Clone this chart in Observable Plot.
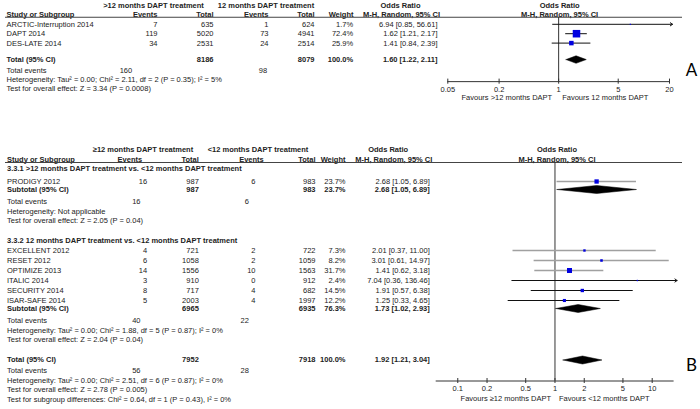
<!DOCTYPE html>
<html><head><meta charset="utf-8">
<script src="https://cdn.jsdelivr.net/npm/d3@7"></script>
<script src="https://cdn.jsdelivr.net/npm/@observablehq/plot@0.6"></script>
<style>
html,body{margin:0;padding:0;background:#fff;}
#chart{width:700px;height:409px;overflow:hidden;background:#fff;}
#chart svg{display:block;}
</style></head><body><div id="chart"></div>
<script>
// ---------- Panel A data ----------
const aArms = [">12 months DAPT treatment", "12 months DAPT treatment"];
const aStudies = ["ARCTIC-Interruption 2014", "DAPT 2014", "DES-LATE 2014"];
const aEvents1 = [7, 119, 34];
const aTotal1 = [635, 5020, 2531];
const aEvents2 = [1, 73, 24];
const aTotal2 = [624, 4941, 2514];
const aWeight = [1.7, 72.4, 25.9];
const aOR = [6.94, 1.62, 1.41];
const aLow = [0.85, 1.21, 0.84];
const aHigh = [56.61, 2.17, 2.39];
const aPooled = [1.60, 1.22, 2.11];
const aPooledTotals = [8186, 8079];
const aPooledEvents = [160, 98];
const aNotes = ["Heterogeneity: Tau² = 0.00; Chi² = 2.11, df = 2 (P = 0.35); I² = 5%",
                "Test for overall effect: Z = 3.34 (P = 0.0008)"];
const aTicks = [0.05, 0.2, 1, 5, 20];
const aFavours = ["Favours >12 months DAPT", "Favours 12 months DAPT"];

// ---------- Panel B data ----------
const bArms = ["≥12 months DAPT treatment", "<12 months DAPT treatment"];
const bGroups = ["3.3.1 >12 months DAPT treatment vs. <12 months DAPT treatment",
                 "3.3.2 12 months DAPT treatment vs. <12 months DAPT treatment"];
const bStudies = ["PRODIGY 2012", "EXCELLENT 2012", "RESET 2012", "OPTIMIZE 2013", "ITALIC 2014", "SECURITY 2014", "ISAR-SAFE 2014"];
const bGroupOf = [0, 1, 1, 1, 1, 1, 1];
const bEvents1 = [16, 4, 6, 14, 3, 8, 5];
const bTotal1 = [987, 721, 1058, 1556, 910, 717, 2003];
const bEvents2 = [6, 2, 2, 10, 0, 4, 4];
const bTotal2 = [983, 722, 1059, 1563, 912, 682, 1997];
const bWeight = [23.7, 7.3, 8.2, 31.7, 2.4, 14.5, 12.2];
const bOR = [2.68, 2.01, 3.01, 1.41, 7.04, 1.91, 1.25];
const bLow = [1.05, 0.37, 0.61, 0.62, 0.36, 0.57, 0.33];
const bHigh = [6.89, 11.00, 14.97, 3.18, 136.46, 6.38, 4.65];
const bSubTotal1 = [987, 6965];
const bSubTotal2 = [983, 6935];
const bSubWeight = [23.7, 76.3];
const bSubOR = [2.68, 1.73];
const bSubLow = [1.05, 1.02];
const bSubHigh = [6.89, 2.93];
const bSubEvents1 = [16, 40];
const bSubEvents2 = [6, 22];
const bSubHet = ["Heterogeneity: Not applicable",
                 "Heterogeneity: Tau² = 0.00; Chi² = 1.88, df = 5 (P = 0.87); I² = 0%"];
const bSubTest = ["Test for overall effect: Z = 2.05 (P = 0.04)",
                  "Test for overall effect: Z = 2.04 (P = 0.04)"];
const bPooled = [1.92, 1.21, 3.04];
const bPooledTotals = [7952, 7918];
const bPooledEvents = [56, 28];
const bNotes = ["Heterogeneity: Tau² = 0.00; Chi² = 2.51, df = 6 (P = 0.87); I² = 0%",
                "Test for overall effect: Z = 2.78 (P = 0.005)",
                "Test for subgroup differences: Chi² = 0.64, df = 1 (P = 0.43), I² = 0%"];
const bTicks = [0.1, 0.2, 0.5, 1, 2, 5, 10];
const bFavours = ["Favours ≥12 months DAPT", "Favours <12 months DAPT"];

// ---------- helpers ----------
const FONT = "'Liberation Sans', Arial, Helvetica, sans-serif";
const INK = "#222";
const BLUE = "#0000e0";
const ML = 5, MR = 18, FS = 7.5;
const fmtCI = (o, l, h) => `${o.toFixed(2)} [${l.toFixed(2)}, ${h.toFixed(2)}]`;
const fmtW = w => `${w.toFixed(1)}%`;

function headerRows(arms, rows) {
  rows.push({line: 0, h1a: arms[0], h1b: arms[1], hor: "Odds Ratio", bold: true});
  rows.push({line: 1, name: "Study or Subgroup", hev1: "Events", htot1: "Total", hev2: "Events",
             htot2: "Total", hw: "Weight", hmh: "M-H, Random, 95% CI", bold: true});
}

function panel(cfg) {
  const marks = [];
  const [dmin, dmax] = cfg.xDomain;
  for (const [key, [pos, anchor]] of Object.entries(cfg.cols)) {
    for (const bold of [false, true]) {
      const data = cfg.rows.filter(r => r[key] != null && !!r.bold === bold);
      if (!data.length) continue;
      marks.push(Plot.text(data, {y: "line", text: d => String(d[key]), frameAnchor: "left",
        dx: pos - ML, textAnchor: anchor, fontSize: FS, fontWeight: bold ? "bold" : "normal", fill: INK}));
    }
  }
  marks.push(Plot.ruleY([cfg.underline], {stroke: "#444", strokeWidth: 1}));
  marks.push(Plot.text(["Odds Ratio", "M-H, Random, 95% CI"], {x: () => 1, y: (d, i) => i, text: d => d,
    dx: cfg.headDx, fontSize: FS, fontWeight: "bold", fill: INK}));
  marks.push(Plot.ruleX([1], {y1: () => cfg.underline, y2: () => cfg.axisLine, stroke: "#333", strokeWidth: 1}));
  marks.push(Plot.ruleY([cfg.axisLine], {x1: () => dmin, x2: () => dmax, stroke: "#333", strokeWidth: 1}));
  marks.push(Plot.ruleX(cfg.ticks, {x: d => d, y1: () => cfg.axisLine - cfg.tickHalf, y2: () => cfg.axisLine + cfg.tickHalf, stroke: "#333"}));
  marks.push(Plot.text(cfg.ticks, {x: d => d, y: () => cfg.tickLine, text: d => String(d), fontSize: FS, fill: INK}));
  marks.push(Plot.text([cfg.favours[0]], {x: () => 1, y: () => cfg.favLine, text: d => d, textAnchor: "end", dx: cfg.favDx[0], fontSize: FS, fill: INK}));
  marks.push(Plot.text([cfg.favours[1]], {x: () => 1, y: () => cfg.favLine, text: d => d, textAnchor: "start", dx: cfg.favDx[1], fontSize: FS, fill: INK}));
  const inside = cfg.studies.filter(s => s.hi <= dmax);
  const outside = cfg.studies.filter(s => s.hi > dmax);
  marks.push(Plot.ruleY(inside.filter(s => s.gray), {y: "line", x1: "lo", x2: "hi", stroke: "#a0a0a0", strokeWidth: 1.6}));
  marks.push(Plot.ruleY(inside.filter(s => !s.gray), {y: "line", x1: "lo", x2: "hi", stroke: "#111", strokeWidth: 1}));
  marks.push(Plot.arrow(outside, {x1: "lo", x2: () => dmax, y1: "line", y2: "line", stroke: "#111", strokeWidth: 1, headLength: 4, headAngle: 70, insetEnd: -3}));
  marks.push(Plot.dot(cfg.studies, {x: "or", y: "line", r: "w", symbol: "square", fill: BLUE, stroke: "none"}));
  const pts = [];
  cfg.diamonds.forEach((d, id) => {
    pts.push({id, x: d.lo, y: d.line}, {id, x: d.or, y: d.line - cfg.dHalf},
             {id, x: d.hi, y: d.line}, {id, x: d.or, y: d.line + cfg.dHalf}, {id, x: d.lo, y: d.line});
  });
  marks.push(Plot.line(pts, {x: "x", y: "y", z: "id", fill: "#000", stroke: "#000", strokeWidth: 0.5}));
  marks.push(Plot.text([cfg.letter], {frameAnchor: "left", dx: 691 - ML, y: () => cfg.letterLine, text: d => d,
    textAnchor: "middle", fontSize: 17, fontFamily: "Lato, 'Open Sans', sans-serif", fill: "#000"}));

  return Plot.plot({
    width: 700, height: cfg.height,
    marginLeft: ML, marginRight: MR, marginTop: 0, marginBottom: 0,
    x: {type: "log", domain: cfg.xDomain, range: cfg.xRange, axis: null},
    y: {domain: cfg.yDomain, range: cfg.yRange, axis: null},
    r: {type: "sqrt", domain: [0, 100], range: [0, 5]},
    style: {fontFamily: FONT, background: "#fff", overflow: "visible"},
    marks
  });
}

// ---------- Panel A layout ----------
const rowsA = [], studiesA = [], diamondsA = [];
headerRows(aArms, rowsA);
let ln = 2;
aStudies.forEach((s, i) => {
  rowsA.push({line: ln, name: s, ev1: aEvents1[i], tot1: aTotal1[i], ev2: aEvents2[i], tot2: aTotal2[i],
              w: fmtW(aWeight[i]), ci: fmtCI(aOR[i], aLow[i], aHigh[i])});
  studiesA.push({line: ln, or: aOR[i], lo: aLow[i], hi: aHigh[i], w: aWeight[i], gray: false});
  ln += 1;
});
ln += 0.75;
rowsA.push({line: ln, name: "Total (95% CI)", tot1: aPooledTotals[0], tot2: aPooledTotals[1], w: fmtW(100),
            ci: fmtCI(...aPooled), bold: true});
diamondsA.push({line: ln, or: aPooled[0], lo: aPooled[1], hi: aPooled[2]});
ln += 1.15;
rowsA.push({line: ln, name: "Total events", tev1: aPooledEvents[0], tev2: aPooledEvents[1]});
ln += 1;
rowsA.push({line: ln, name: aNotes[0]});
ln += 0.98;
rowsA.push({line: ln, name: aNotes[1]});

const panelA = panel({
  height: 130, rows: rowsA, studies: studiesA, diamonds: diamondsA,
  cols: {name: [6, "start"], ev1: [157, "end"], tot1: [213, "end"], ev2: [268, "end"], tot2: [314, "end"],
         w: [352.7, "end"], ci: [437, "end"], tev1: [131.7, "end"], tev2: [266.7, "end"],
         h1a: [153, "middle"], h1b: [265.5, "middle"], hev1: [157, "end"], htot1: [213, "end"],
         hev2: [268, "end"], htot2: [314, "end"], hw: [353, "end"], hor: [400, "middle"], hmh: [401, "middle"]},
  xDomain: [0.05, 20], xRange: [447.3, 669],
  yDomain: [0, 10], yRange: [5, 99],
  underline: 1.25, axisLine: 8.1, tickHalf: 0.27, tickLine: 8.95, favLine: 9.85,
  ticks: aTicks, favours: aFavours, favDx: [-6.5, 3.5], headDx: 1,
  dHalf: 0.4, letter: "A", letterLine: 6.9
});

// ---------- Panel B layout ----------
const rowsB = [], studiesB = [], diamondsB = [];
headerRows(bArms, rowsB);
const groupGap = [1.25, 1.0];
ln = 1.95;
bGroups.forEach((g, gi) => {
  rowsB.push({line: ln, name: g, bold: true});
  ln += groupGap[gi];
  let last = ln;
  bStudies.forEach((s, i) => {
    if (bGroupOf[i] !== gi) return;
    rowsB.push({line: ln, name: s, ev1: bEvents1[i], tot1: bTotal1[i], ev2: bEvents2[i], tot2: bTotal2[i],
                w: fmtW(bWeight[i]), ci: fmtCI(bOR[i], bLow[i], bHigh[i])});
    studiesB.push({line: ln, or: bOR[i], lo: bLow[i], hi: bHigh[i], w: bWeight[i], gray: i < 4});
    last = ln;
    ln += 1;
  });
  ln = last + 0.8;
  rowsB.push({line: ln, name: "Subtotal (95% CI)", tot1: bSubTotal1[gi], tot2: bSubTotal2[gi],
              w: fmtW(bSubWeight[gi]), ci: fmtCI(bSubOR[gi], bSubLow[gi], bSubHigh[gi]), bold: true});
  diamondsB.push({line: ln, or: bSubOR[gi], lo: bSubLow[gi], hi: bSubHigh[gi]});
  ln += 1.2;
  rowsB.push({line: ln, name: "Total events", tev1: bSubEvents1[gi], tev2: bSubEvents2[gi]});
  ln += 1;
  rowsB.push({line: ln, name: bSubHet[gi]});
  ln += 0.95;
  rowsB.push({line: ln, name: bSubTest[gi]});
  ln += 1.95;
});
ln += 0.05;
rowsB.push({line: ln, name: "Total (95% CI)", tot1: bPooledTotals[0], tot2: bPooledTotals[1], w: fmtW(100),
            ci: fmtCI(...bPooled), bold: true});
diamondsB.push({line: ln, or: bPooled[0], lo: bPooled[1], hi: bPooled[2]});
ln += 1.05;
rowsB.push({line: ln, name: "Total events", tev1: bPooledEvents[0], tev2: bPooledEvents[1]});
bNotes.forEach((t, i) => { ln += i === 0 ? 1 : 0.93; rowsB.push({line: ln, name: t}); });

const panelB = panel({
  height: 279, rows: rowsB, studies: studiesB, diamonds: diamondsB,
  cols: {name: [6.5, "start"], ev1: [146.7, "end"], tot1: [198.3, "end"], ev2: [255, "end"], tot2: [315, "end"],
         w: [345, "end"], ci: [429.3, "end"], tev1: [140, "end"], tev2: [248.3, "end"],
         h1a: [142.5, "middle"], h1b: [257.5, "middle"], hev1: [141.7, "end"], htot1: [198.3, "end"],
         hev2: [263.3, "end"], htot2: [315, "end"], hw: [345, "end"], hor: [387.7, "middle"], hmh: [393.3, "middle"]},
  xDomain: [0.06, 16.8], xRange: [435.7, 673.6],
  yDomain: [0, 26], yRange: [19, 279],
  underline: 1.3, axisLine: 23.15, tickHalf: 0.25, tickLine: 23.95, favLine: 24.9,
  ticks: bTicks, favours: bFavours, favDx: [-4, 4], headDx: 2,
  dHalf: 0.4, letter: "B", letterLine: 21.6
});

const root = document.getElementById("chart");
root.appendChild(panelA);
root.appendChild(panelB);
</script></body></html>
